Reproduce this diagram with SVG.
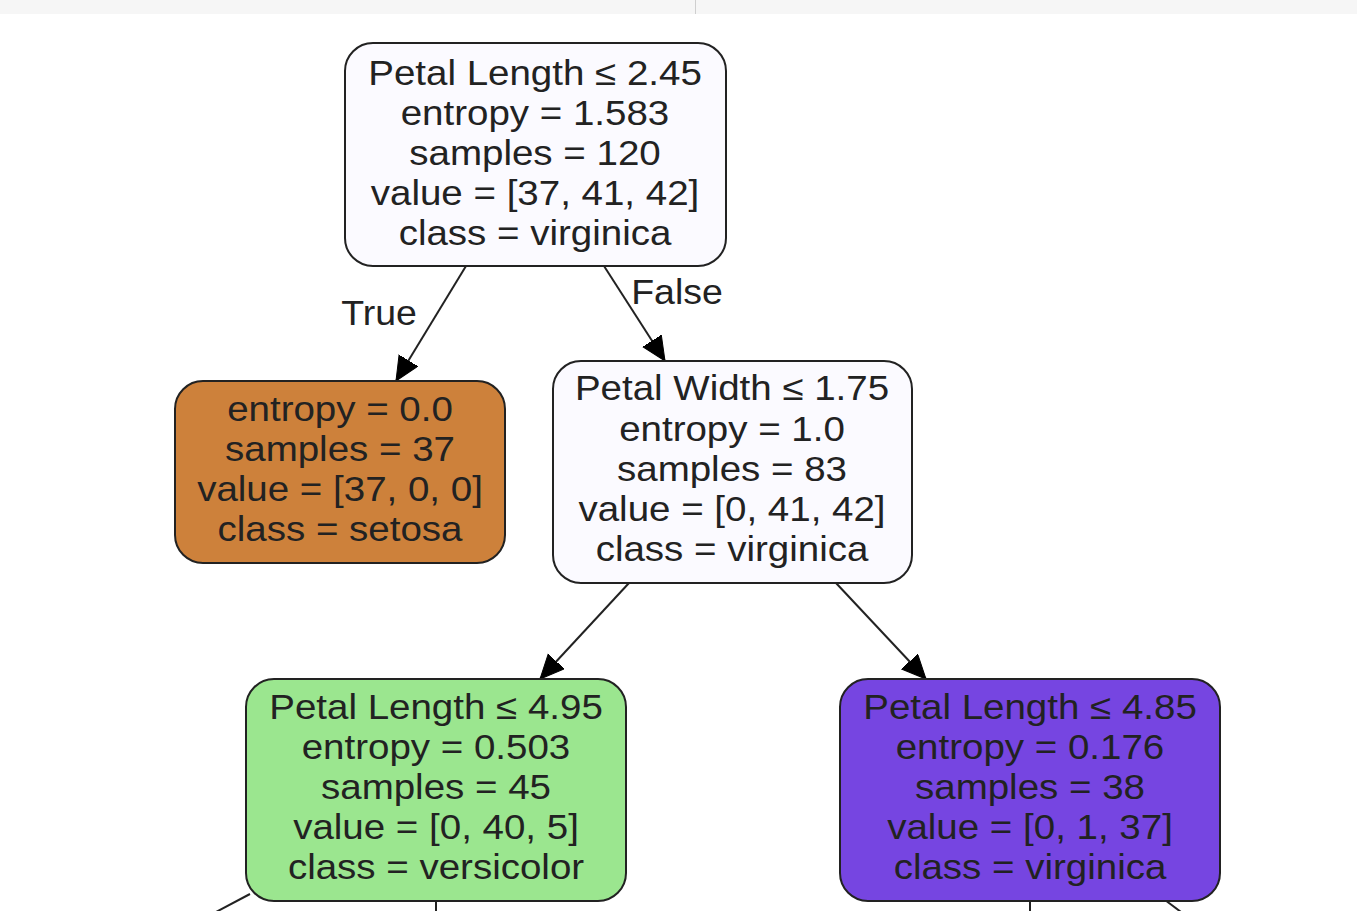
<svg xmlns="http://www.w3.org/2000/svg" width="1357" height="911" viewBox="0 0 1357 911">
<style>
.bg{fill:#ffffff}
.band{fill:#f6f6f6}
.node rect{stroke:#222;stroke-width:2}
.t{font-family:"Liberation Sans",Arial,sans-serif;font-size:35px;fill:#222;text-anchor:middle}
.edge{stroke:#222;stroke-width:2;fill:none}
.light{fill:#fbfaff}
.orange{fill:#cd813b}
.green{fill:#9be68f}
.purple{fill:#7645e1}
</style>
<defs>
<marker id="arr" markerUnits="userSpaceOnUse" markerWidth="30" markerHeight="30" refX="24" refY="11" orient="auto">
<polygon points="0,0 24,11 0,22" fill="#000" stroke="#000" stroke-width="1"/>
</marker>
</defs>
<rect class="bg" x="0" y="0" width="1357" height="911"/>
<rect class="band" x="0" y="0" width="1357" height="14"/>
<line x1="695.5" y1="0" x2="695.5" y2="14" stroke="#cfcfcf" stroke-width="1"/>

<g id="connectors">
<line class="edge" x1="466" y1="266" x2="396" y2="381" marker-end="url(#arr)"/>
<line class="edge" x1="604" y1="266" x2="665" y2="361" marker-end="url(#arr)"/>
<line class="edge" x1="629" y1="583" x2="540" y2="679" marker-end="url(#arr)"/>
<line class="edge" x1="836" y1="583" x2="926" y2="679" marker-end="url(#arr)"/>
<line class="edge" x1="250" y1="894" x2="216" y2="912"/>
<line class="edge" x1="436" y1="901" x2="436" y2="912"/>
<line class="edge" x1="1030" y1="901" x2="1030" y2="912"/>
<line class="edge" x1="1165" y1="900" x2="1181" y2="912"/>
<g transform="translate(379,0) scale(1.07,1)"><text class="t" x="0" y="325">True</text></g>
<g transform="translate(677,0) scale(1.07,1)"><text class="t" x="0" y="304">False</text></g>
</g>

<g id="node0" class="node">
<rect class="light" x="345" y="43" width="381" height="223" rx="28" ry="28"/>
<g transform="translate(535,0) scale(1.1,1)">
<text class="t" x="0" y="85">Petal Length ≤ 2.45</text>
<text class="t" x="0" y="125">entropy = 1.583</text>
<text class="t" x="0" y="165">samples = 120</text>
<text class="t" x="0" y="205">value = [37, 41, 42]</text>
<text class="t" x="0" y="245">class = virginica</text>
</g>
</g>

<g id="node1" class="node">
<rect class="orange" x="175" y="381" width="330" height="182" rx="28" ry="28"/>
<g transform="translate(340,0) scale(1.1,1)">
<text class="t" x="0" y="421">entropy = 0.0</text>
<text class="t" x="0" y="461">samples = 37</text>
<text class="t" x="0" y="501">value = [37, 0, 0]</text>
<text class="t" x="0" y="541">class = setosa</text>
</g>
</g>

<g id="node2" class="node">
<rect class="light" x="553" y="361" width="359" height="222" rx="28" ry="28"/>
<g transform="translate(732,0) scale(1.1,1)">
<text class="t" x="0" y="400">Petal Width ≤ 1.75</text>
<text class="t" x="0" y="441">entropy = 1.0</text>
<text class="t" x="0" y="481">samples = 83</text>
<text class="t" x="0" y="521">value = [0, 41, 42]</text>
<text class="t" x="0" y="561">class = virginica</text>
</g>
</g>

<g id="node3" class="node">
<rect class="green" x="246" y="679" width="380" height="222" rx="28" ry="28"/>
<g transform="translate(436,0) scale(1.1,1)">
<text class="t" x="0" y="719">Petal Length ≤ 4.95</text>
<text class="t" x="0" y="759">entropy = 0.503</text>
<text class="t" x="0" y="799">samples = 45</text>
<text class="t" x="0" y="839">value = [0, 40, 5]</text>
<text class="t" x="0" y="879">class = versicolor</text>
</g>
</g>

<g id="node4" class="node">
<rect class="purple" x="840" y="679" width="380" height="222" rx="28" ry="28"/>
<g transform="translate(1030,0) scale(1.1,1)">
<text class="t" x="0" y="719">Petal Length ≤ 4.85</text>
<text class="t" x="0" y="759">entropy = 0.176</text>
<text class="t" x="0" y="799">samples = 38</text>
<text class="t" x="0" y="839">value = [0, 1, 37]</text>
<text class="t" x="0" y="879">class = virginica</text>
</g>
</g>
</svg>
